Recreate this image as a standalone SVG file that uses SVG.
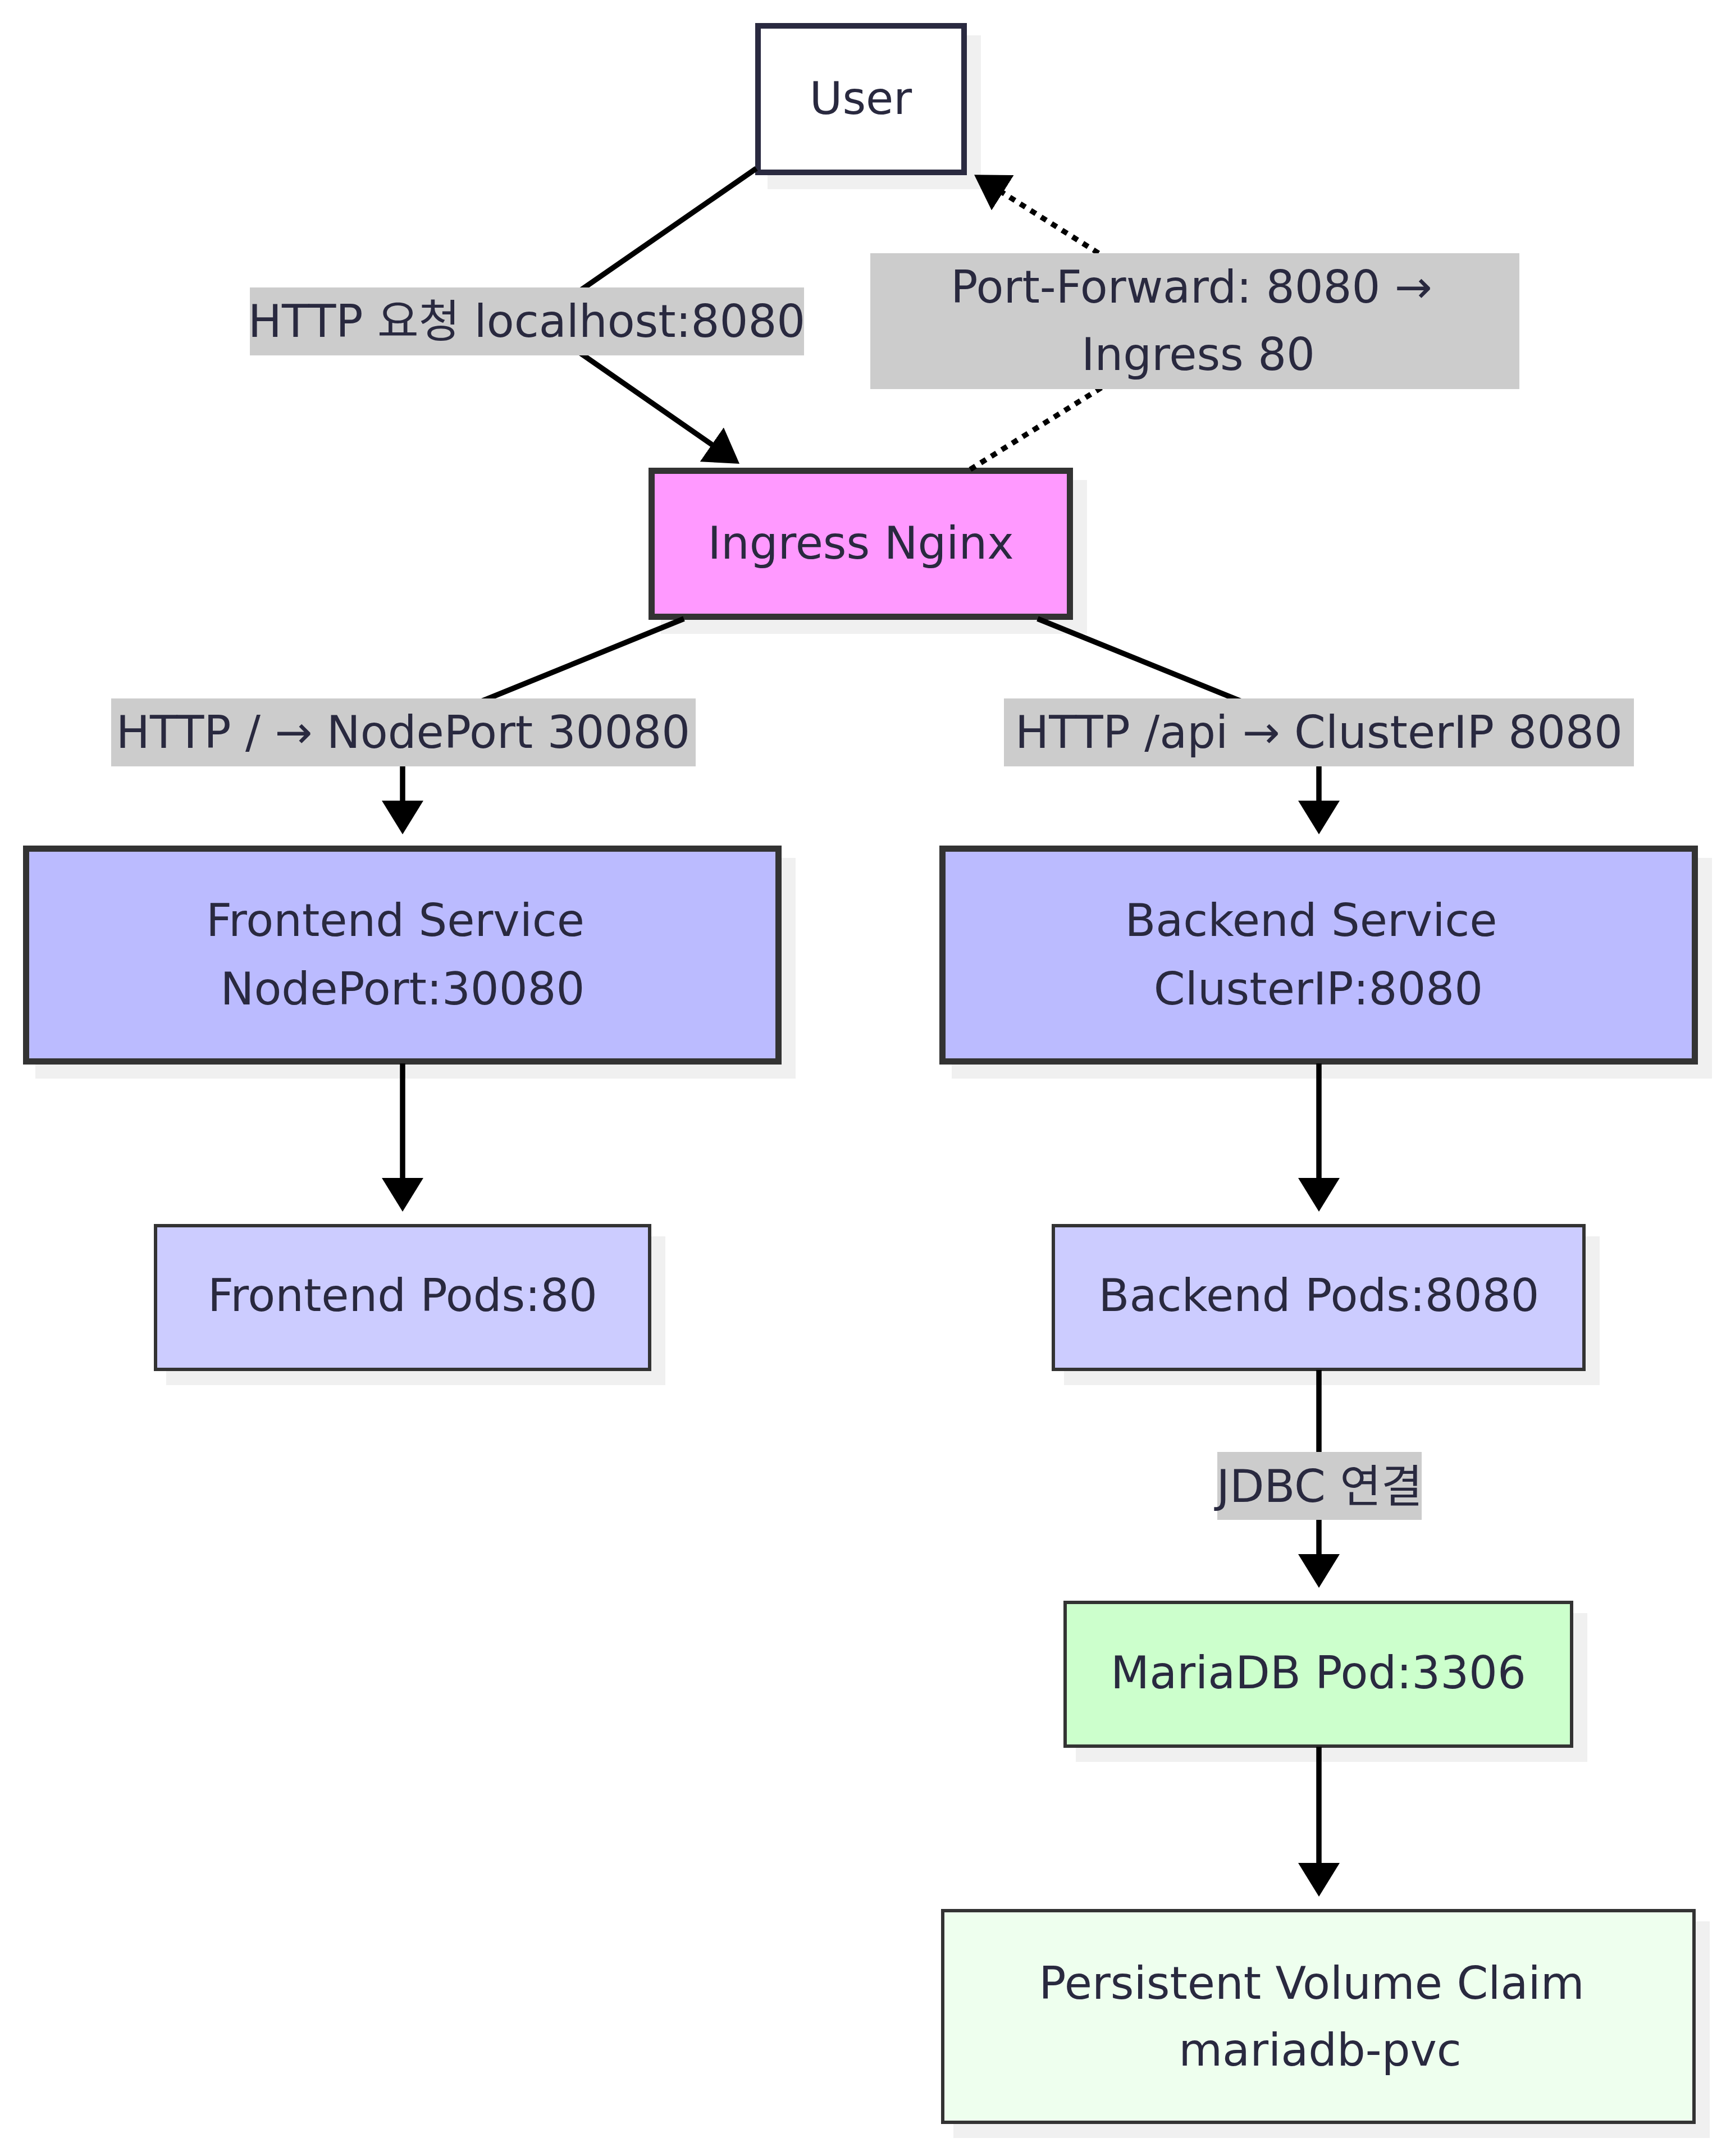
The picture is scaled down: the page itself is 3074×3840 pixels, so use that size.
<svg xmlns="http://www.w3.org/2000/svg" width="3074" height="3840" viewBox="0 0 3074 3840">
<style>
  text { font-family: "DejaVu Sans", "Noto Sans CJK KR", sans-serif; font-size: 80px; fill: #29293f; text-anchor: middle; }
  .shadow { fill: #f0f0f0; }
  .edge { fill: none; stroke: #000; stroke-width: 9.5; }
  .dotted { stroke-dasharray: 11 11; }
  .lbl { fill: #cccccc; }
  .thick { stroke: #333333; stroke-width: 11; }
  .thin { stroke: #333333; stroke-width: 6; }
</style>
<defs>
  <marker id="arrow" markerUnits="userSpaceOnUse" viewBox="0 0 60 74" markerWidth="60" markerHeight="74" refX="40" refY="37" orient="auto">
    <path d="M0,0 L60,37 L0,74 z" fill="#000" stroke="none"/>
  </marker>
</defs>
<rect width="3074" height="3840" fill="#ffffff"/>

<g id="node-user">
  <rect class="shadow" x="1367" y="63" width="380" height="274"/>
  <rect x="1350" y="46" width="367" height="261" fill="#ffffff" stroke="#2a2a40" stroke-width="10"/>
  <text x="1533" y="203">User</text>
</g>

<g id="node-ingress">
  <rect class="shadow" x="1177" y="855" width="759" height="274"/>
  <rect class="thick" x="1160.5" y="838.5" width="745" height="260" fill="#ff99ff"/>
  <text x="1533" y="995">Ingress Nginx</text>
</g>

<g id="node-frontend-service">
  <rect class="shadow" x="63" y="1528" width="1354" height="393"/>
  <rect class="thick" x="46.5" y="1511.5" width="1340" height="379" fill="#bbbbff"/>
  <text x="704" y="1667">Frontend Service</text>
  <text x="717" y="1789">NodePort:30080</text>
</g>

<g id="node-backend-service">
  <rect class="shadow" x="1695" y="1528" width="1354" height="393"/>
  <rect class="thick" x="1678.5" y="1511.5" width="1340" height="379" fill="#bbbbff"/>
  <text x="2335" y="1667">Backend Service</text>
  <text x="2348" y="1789">ClusterIP:8080</text>
</g>

<g id="node-frontend-pods">
  <rect class="shadow" x="296" y="2202" width="889" height="265"/>
  <rect class="thin" x="277" y="2183" width="880" height="256" fill="#ccccff"/>
  <text x="717" y="2335">Frontend Pods:80</text>
</g>

<g id="node-backend-pods">
  <rect class="shadow" x="1895" y="2202" width="954" height="265"/>
  <rect class="thin" x="1876" y="2183" width="945" height="256" fill="#ccccff"/>
  <text x="2349" y="2335">Backend Pods:8080</text>
</g>

<g id="node-mariadb">
  <rect class="shadow" x="1916" y="2873" width="911" height="265"/>
  <rect class="thin" x="1897" y="2854" width="902" height="256" fill="#ccffcc"/>
  <text x="2348" y="3007">MariaDB Pod:3306</text>
</g>

<g id="node-pvc">
  <rect class="shadow" x="1698" y="3422" width="1347" height="386"/>
  <rect class="thin" x="1679" y="3403" width="1338" height="377" fill="#eeffee"/>
  <text x="2336" y="3560">Persistent Volume Claim</text>
  <text x="2351" y="3679">mariadb-pvc</text>
</g>

<g id="connectors">
  <path class="edge" d="M1347,300 L953,573 L1300.6,814.6" marker-end="url(#arrow)"/>
  <path class="edge dotted" d="M1728,836 L2150,573 L1752,322" marker-end="url(#arrow)"/>
  <path class="edge" d="M1218,1102 L855,1250 Q717,1300 717,1365 L717,1466" marker-end="url(#arrow)"/>
  <path class="edge" d="M1848,1102 L2213,1250 Q2349,1300 2349,1365 L2349,1466" marker-end="url(#arrow)"/>
  <path class="edge" d="M717,1894 L717,2138" marker-end="url(#arrow)"/>
  <path class="edge" d="M2349,1894 L2349,2138" marker-end="url(#arrow)"/>
  <path class="edge" d="M2349,2440 L2349,2808" marker-end="url(#arrow)"/>
  <path class="edge" d="M2349,3111 L2349,3358" marker-end="url(#arrow)"/>
</g>

<g id="edge-labels">
  <g id="label-http-localhost">
    <rect class="lbl" x="445" y="512" width="987" height="121"/>
    <text x="938" y="600">HTTP 요청 localhost:8080</text>
  </g>
  <g id="label-port-forward">
    <rect class="lbl" x="1550" y="451" width="1156" height="242"/>
    <text x="2122" y="539">Port-Forward: 8080 →</text>
    <text x="2134" y="659">Ingress 80</text>
  </g>
  <g id="label-nodeport">
    <rect class="lbl" x="198" y="1244" width="1041" height="121"/>
    <text x="718" y="1332">HTTP / → NodePort 30080</text>
  </g>
  <g id="label-clusterip">
    <rect class="lbl" x="1788" y="1244" width="1122" height="121"/>
    <text x="2349" y="1332">HTTP /api → ClusterIP 8080</text>
  </g>
  <g id="label-jdbc">
    <rect class="lbl" x="2168" y="2586" width="364" height="121"/>
    <text x="2350" y="2675">JDBC 연결</text>
  </g>
</g>
</svg>
